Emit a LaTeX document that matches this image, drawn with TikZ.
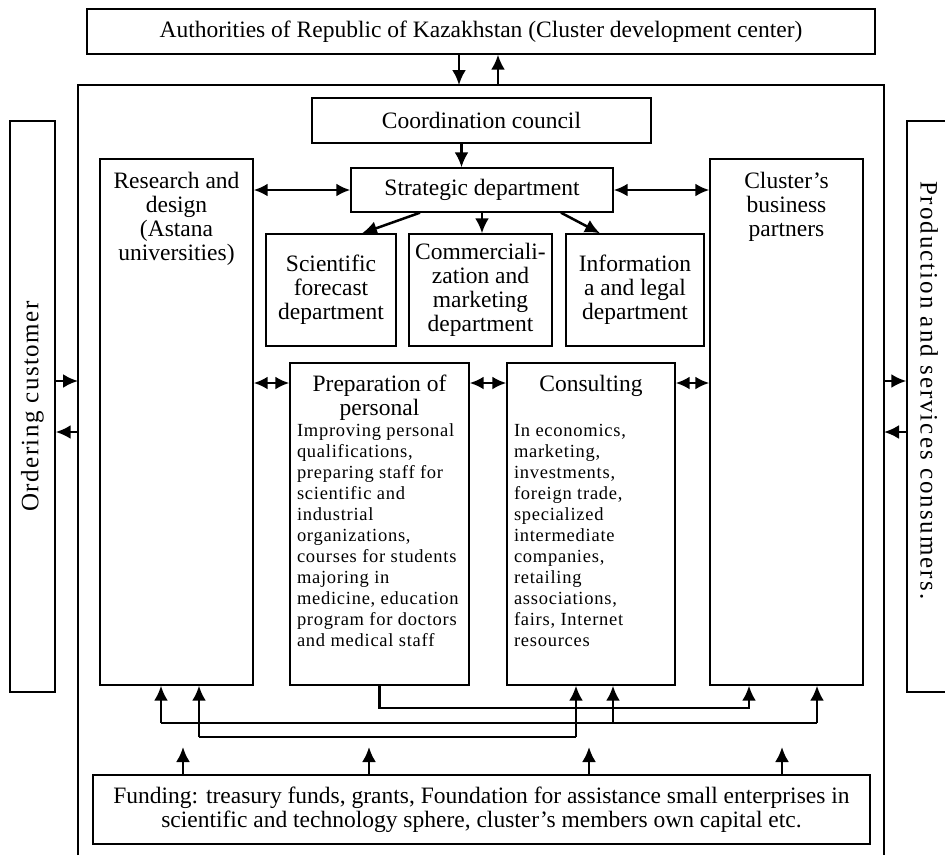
\documentclass[tikz,border=0pt]{standalone}
\usepackage{fontspec}
\setmainfont{Liberation Serif}
\newfontfamily\listfont[LetterSpace=4]{Liberation Serif}
\newfontfamily\sidefont[LetterSpace=6]{Liberation Serif}
\newfontfamily\widefont[LetterSpace=8]{Liberation Serif}
\usetikzlibrary{arrows.meta}

% box whose text sits at the top
\newcommand{\topcell}[4]{\parbox[c][#2][t]{#1}{\vspace*{#3}\centering #4}}
\newcommand{\itemlist}{\listfont\fontsize{18.5}{21}\selectfont\raggedright\leftskip=7pt}

\begin{document}
\begin{tikzpicture}[x=1pt, y=-1pt,
    box/.style={draw, line width=1.4pt, inner sep=0pt, align=center,
        font=\fontsize{23.5}{24}\selectfont},
    side/.style={draw, line width=1.4pt, inner sep=0pt, font=\sidefont\fontsize{25}{25}\selectfont},
    link/.style={-{Latex[length=15pt, width=14pt]}, line width=2.5pt},
    both/.style={{Latex[length=14pt, width=13pt]}-{Latex[length=14pt, width=13pt]}, line width=2.5pt},
    bus/.style={line width=2.5pt}]
\useasboundingbox (0,0) rectangle (945,855);

% outer parts
\node[box, minimum width=788pt, minimum height=45pt] (authorities) at (481,31.5)
    {Authorities of Republic of Kazakhstan (Cluster development center)};
\coordinate (fl) at (78,85);
\coordinate (fr) at (884,85);
\draw[line width=1.4pt] (fl |- 0,855) -- (fl) -- (fr) -- (fr |- 0,855);
\node[side, minimum width=45pt, minimum height=571pt] (orderer) at (32.5,406.5)
    {\rotatebox{90}{Ordering customer}};
\node[side] (consumers) at (929,406.5)
    {\topcell{44pt}{571pt}{60pt}{\rotatebox{-90}{\widefont Production and services consumers.}}};

\coordinate (down) at (459,85);
\coordinate (up) at (498,85);
\draw[link] (authorities.south -| down) -- (down);
\draw[link] (up) -- (authorities.south -| up);

% inner parts
\node[box, minimum width=339pt, minimum height=45pt] (council) at (481.5,120.5) {Coordination council};
\node[box, minimum width=262pt, minimum height=44pt] (strategic) at (482,190) {Strategic department};
\node[box] (research) at (176.5,422)
    {\topcell{153pt}{526pt}{13pt}{Research and\\design\\(Astana\\universities)}};
\node[box] (partners) at (786.5,422)
    {\topcell{153pt}{526pt}{13pt}{Cluster's\\business\\partners}};

\node[box, minimum width=130pt, minimum height=112pt] (forecast) at (331,290)
    {Scientific\\forecast\\department};
\node[box, minimum width=143pt, minimum height=112pt] (marketing) at (480.5,290)
    {Commerciali-\\zation and\\marketing\\department};
\node[box, minimum width=138pt, minimum height=112pt] (legal) at (635,290)
    {Information\\a and legal\\department};

\node[box] (personal) at (379.5,524)
    {\topcell{179pt}{322pt}{12pt}{Preparation of\\personal\par
    \itemlist Improving personal\\qualifications,\\preparing staff for\\scientific and\\industrial\\organizations,\\courses for students\\majoring in\\medicine, education\\program for doctors\\and medical staff}};
\node[box] (consulting) at (591,524)
    {\topcell{168pt}{322pt}{12pt}{Consulting\par\vspace{24pt}
    \itemlist In economics,\\marketing,\\investments,\\foreign trade,\\specialized\\intermediate\\companies,\\retailing\\associations,\\fairs, Internet\\resources}};

\node[box, minimum width=777pt, minimum height=69pt] (funding) at (481.5,809.5)
    {Funding: treasury funds, grants, Foundation for assistance small enterprises in\\
    scientific and technology sphere, cluster's members own capital etc.};

% arrows at the top
\draw[link] ([xshift=-20pt]council.south) -- ([xshift=-20pt]council.south |- strategic.north);
\draw[both] (research.east |- strategic.west) -- (strategic.west);
\draw[both] (strategic.east) -- (strategic.east -| partners.west);
\draw[link] ([xshift=-62pt]strategic.south) -- ([xshift=31pt]forecast.north);
\draw[link] (strategic.south) -- (strategic.south |- marketing.north);
\draw[link] ([xshift=79pt]strategic.south) -- ([xshift=-35pt]legal.north);

% arrows in the middle
\coordinate (row) at (0,383);
\draw[both] (research.east |- row) -- (personal.west |- row);
\draw[both] (personal.east |- row) -- (consulting.west |- row);
\draw[both] (consulting.east |- row) -- (partners.west |- row);

\coordinate (inrow) at (0,381);
\coordinate (outrow) at (0,432);
\draw[link] (orderer.east |- inrow) -- (fl |- inrow);
\draw[link] (fl |- outrow) -- (orderer.east |- outrow);
\draw[link] (fr |- inrow) -- (consumers.west |- inrow);
\draw[link] (consumers.west |- outrow) -- (fr |- outrow);

% lines at the bottom
\coordinate (a1) at (161,723);
\coordinate (a2) at (613,723);
\coordinate (a3) at (817,723);
\coordinate (b1) at (199,737);
\coordinate (b2) at (576,737);
\coordinate (c1) at (749,708);
\draw[bus] (a1) -- (a3);
\draw[bus] (b1) -- (b2);
\draw[link] (a1) -- (a1 |- research.south);
\draw[link] (b1) -- (b1 |- research.south);
\draw[link] (b2) -- (b2 |- consulting.south);
\draw[link] (a2) -- (a2 |- consulting.south);
\draw[link] (a3) -- (a3 |- partners.south);
\draw[link] (personal.south) |- (c1) -- (c1 |- partners.south);

\foreach \x/\name in {183/d1, 369/d2, 589/d3, 782/d4} {
    \coordinate (\name) at (\x,747);
    \draw[link] (\name |- funding.north) -- (\name);
}
\end{tikzpicture}
\end{document}
